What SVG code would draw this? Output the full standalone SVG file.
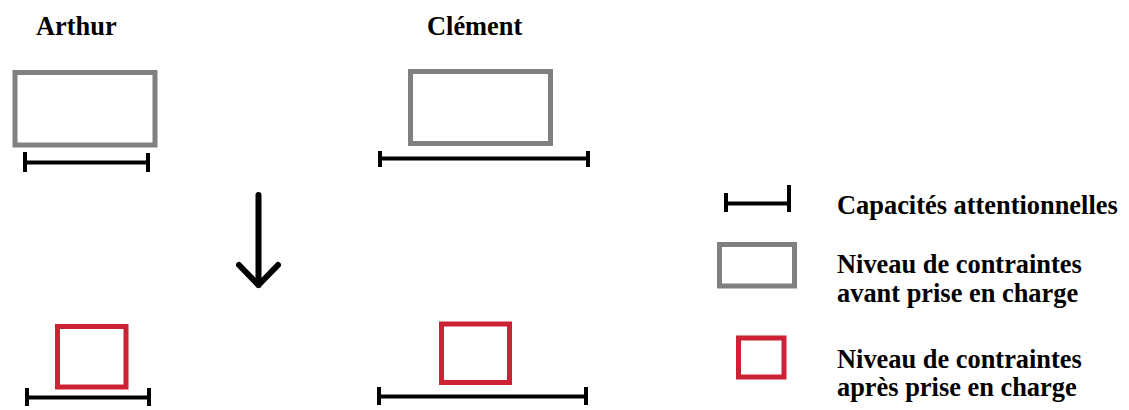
<svg xmlns="http://www.w3.org/2000/svg" width="1129" height="410" viewBox="0 0 1129 410">
<style>
.t{font-family:"Liberation Serif","Times New Roman",serif;font-weight:bold;font-size:26.4px;fill:#000}
.gray{fill:none;stroke:#808080;stroke-width:5}
.red{fill:none;stroke:#cc2233;stroke-width:5}
.bar{stroke:#000;stroke-width:4;fill:none}
.tick{stroke:#000;stroke-width:4;fill:none}
</style>
<rect width="1129" height="410" fill="#fff"/>
<g id="arthur-label"><text class="t" x="36" y="35">Arthur</text></g>
<g id="clement-label"><text class="t" x="427" y="35">Clément</text></g>
<g id="arthur-before">
<rect class="gray" x="15" y="72.5" width="140" height="72.5"/>
<line class="bar" x1="25" y1="162.5" x2="149" y2="162.5"/>
<line class="tick" x1="25" y1="152" x2="25" y2="172"/>
<line class="tick" x1="148" y1="153" x2="148" y2="172"/>
</g>
<g id="clement-before">
<rect class="gray" x="410.5" y="71.5" width="140" height="72"/>
<line class="bar" x1="380" y1="158.5" x2="589" y2="158.5"/>
<line class="tick" x1="380" y1="151" x2="380" y2="167"/>
<line class="tick" x1="588" y1="151" x2="588" y2="167"/>
</g>
<g id="connectors">
<line x1="258.5" y1="195" x2="258.5" y2="285" stroke="#000" stroke-width="6" stroke-linecap="round"/>
<polyline points="239,265 258.5,285 278,265" fill="none" stroke="#000" stroke-width="6" stroke-linecap="round" stroke-linejoin="round"/>
</g>
<g id="arthur-after">
<rect class="red" x="57.5" y="326.5" width="68.5" height="60.5"/>
<line class="bar" x1="27" y1="397.5" x2="150" y2="397.5"/>
<line class="tick" x1="27" y1="388" x2="27" y2="406"/>
<line class="tick" x1="149" y1="388" x2="149" y2="406"/>
</g>
<g id="clement-after">
<rect class="red" x="441.5" y="324" width="68" height="58.5"/>
<line class="bar" x1="379" y1="396.5" x2="587" y2="396.5"/>
<line class="tick" x1="379" y1="387" x2="379" y2="405"/>
<line class="tick" x1="586" y1="387" x2="586" y2="405"/>
</g>
<g id="legend-capacity">
<line class="bar" x1="725" y1="203.5" x2="790" y2="203.5" stroke-width="5"/>
<line class="tick" x1="726" y1="193" x2="726" y2="212"/>
<line class="tick" x1="789" y1="185" x2="789" y2="212"/>
<text class="t" x="837" y="214">Capacités attentionnelles</text>
</g>
<g id="legend-before">
<rect class="gray" x="719.5" y="244.5" width="75" height="41.5" stroke-width="7"/>
<text class="t" x="837" y="273">Niveau de contraintes</text>
<text class="t" x="837" y="302">avant prise en charge</text>
</g>
<g id="legend-after">
<rect class="red" x="738.5" y="338" width="45.5" height="39" stroke-width="7"/>
<text class="t" x="837" y="368">Niveau de contraintes</text>
<text class="t" x="837" y="396">après prise en charge</text>
</g>
</svg>
